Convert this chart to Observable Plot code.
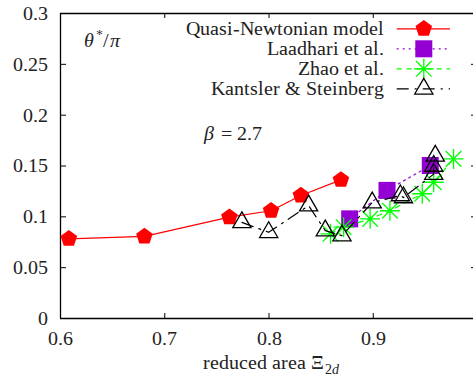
<!DOCTYPE html>
<html><head><meta charset="utf-8">
<script src="https://cdn.jsdelivr.net/npm/d3@7"></script>
<script src="https://cdn.jsdelivr.net/npm/@observablehq/plot@0.6"></script>
<style>
@font-face{font-family:"LSerifLocal";src:local("Liberation Serif"),local("LiberationSerif"),local("LiberationSerif-Regular");font-style:normal;font-weight:400;}
@font-face{font-family:"LSerifLocal";src:local("Liberation Serif Italic"),local("LiberationSerif-Italic");font-style:italic;font-weight:400;}
body{margin:0;padding:0;background:#fff;}
#chart{width:473px;height:379px;overflow:hidden;}
#chart svg{display:block;}
</style></head><body><div id="chart"></div>
<script>
// ---- data ----
const qnX = [0.608, 0.6805, 0.762, 0.802, 0.8306, 0.869];
const qnY = [0.0784, 0.0807, 0.0997, 0.106, 0.121, 0.1364];
const laX = [0.8774, 0.9132, 0.9547];
const laY = [0.098, 0.126, 0.1505];
const zhX = [0.859, 0.8716, 0.897, 0.916, 0.947, 0.958, 0.977];
const zhY = [0.0833, 0.0898, 0.098, 0.106, 0.1227, 0.134, 0.157];
const ksX = [0.774, 0.7997, 0.838, 0.854, 0.870, 0.899, 0.926, 0.929, 0.958, 0.958, 0.9595];
const ksY = [0.0945, 0.0848, 0.111, 0.0865, 0.0815, 0.114, 0.121, 0.119, 0.142, 0.150, 0.160];
const seriesNames = ["Quasi-Newtonian model", "Laadhari et al.", "Zhao et al.", "Kantsler & Steinberg"];
const xTicks = [0.6, 0.7, 0.8, 0.9, 1.0];
const xTickLabels = ["0.6", "0.7", "0.8", "0.9", "1"];
const yTicks = [0, 0.05, 0.1, 0.15, 0.2, 0.25, 0.3];
const yTickLabels = ["0", "0.05", "0.1", "0.15", "0.2", "0.25", "0.3"];
// rich-text pieces: [text, dx from left frame, dy from top frame, size, style, anchor]
const xTitleParts = [["reduced area Ξ", 263, 355, 20, "normal", "end"], ["2", 264, 360, 14, "normal", "start"], ["d", 271, 360, 14, "italic", "start"]];
const yNoteParts = [["θ", 23, 33, 20, "italic", "start"], ["*", 35, 26, 14, "normal", "start"], ["/", 42, 33, 20, "normal", "start"], ["π", 49, 33, 20, "italic", "start"]];
const betaParts = [["β", 143, 126, 20, "italic", "start"], ["= 2.7", 160, 126, 20, "normal", "start"]];

// ---- custom symbols ----
const pentagonSym = {draw(ctx, size) {
  const r = Math.sqrt(size / Math.PI);
  for (let k = 0; k < 5; k++) {
    const a = -Math.PI / 2 + k * 2 * Math.PI / 5;
    const px = r * Math.cos(a), py = r * Math.sin(a);
    k ? ctx.lineTo(px, py) : ctx.moveTo(px, py);
  }
  ctx.closePath();
}};
const starSym = {draw(ctx, size) {
  const r = Math.sqrt(size / Math.PI), d = r * 0.78;
  ctx.moveTo(-r, 0); ctx.lineTo(r, 0);
  ctx.moveTo(0, -r); ctx.lineTo(0, r);
  ctx.moveTo(-d, -d); ctx.lineTo(d, d);
  ctx.moveTo(-d, d); ctx.lineTo(d, -d);
}};
const triangleSym = {draw(ctx, size) {
  const r = Math.sqrt(size / Math.PI), s = Math.sin(2 * Math.PI / 3);
  ctx.moveTo(0, -r); ctx.lineTo(r * s, r * 0.5); ctx.lineTo(-r * s, r * 0.5); ctx.closePath();
}};

const seriesStyles = [
  {data: d3.zip(qnX, qnY), stroke: "#ff0000", dash: null, symbol: pentagonSym, r: 8.7, fill: "#ff0000", mstroke: "none", sw: 1.2},
  {data: d3.zip(laX, laY), stroke: "#9400d3", dash: "2,4", symbol: "square", r: 9.6, fill: "#9400d3", mstroke: "none", sw: 1.2},
  {data: d3.zip(zhX, zhY), stroke: "#00ff00", dash: "5,5", symbol: starSym, r: 10, fill: "none", mstroke: "#00ff00", sw: 1.2},
  {data: d3.zip(ksX, ksY), stroke: "#000000", dash: "12,6,2,6", symbol: triangleSym, r: 10.5, fill: "none", mstroke: "#000000", sw: 1.2}
];

const W = 473, H = 379, ML = 60, MT = 13, MB = 61, MR = 0;
const FONTNAME = "LSerifLocal, Liberation Serif, Tinos, Times New Roman, serif";
const FS = 20;
const TXT = "#222";

const markList = [];
// frame
markList.push(Plot.ruleY([0, 0.3], {stroke: "#000", strokeWidth: 1.3}));
markList.push(Plot.ruleX([0.6, 1.0], {stroke: "#000", strokeWidth: 1.3}));
// inward ticks (bottom, top, left, right)
markList.push(Plot.ruleX(xTicks, {stroke: "#000", strokeWidth: 1, insetTop: 300}));
markList.push(Plot.ruleX(xTicks, {stroke: "#000", strokeWidth: 1, insetBottom: 300}));
markList.push(Plot.ruleY(yTicks, {stroke: "#000", strokeWidth: 1, insetRight: 407}));
markList.push(Plot.ruleY(yTicks, {stroke: "#000", strokeWidth: 1, insetLeft: 411}));
// tick labels
markList.push(Plot.axisX(xTicks, {tickSize: 0, tickPadding: 12, fontSize: FS, fontFamily: FONTNAME, fill: TXT, label: null,
  tickFormat: d => xTickLabels[xTicks.indexOf(d)]}));
markList.push(Plot.axisY(yTicks, {tickSize: 0, tickPadding: 13, fontSize: FS, fontFamily: FONTNAME, fill: TXT, label: null,
  tickFormat: d => yTickLabels[yTicks.indexOf(d)]}));
// series
for (const s of seriesStyles) {
  markList.push(Plot.line(s.data, {x: d => d[0], y: d => d[1], stroke: s.stroke, strokeWidth: s.sw,
    strokeDasharray: s.dash ?? undefined}));
  markList.push(Plot.dot(s.data, {x: d => d[0], y: d => d[1], symbol: s.symbol, r: s.r,
    fill: s.fill, stroke: s.mstroke, strokeWidth: 1.3}));
}
// legend
const midY = (MT + H - MB) / 2;
seriesStyles.forEach((s, i) => {
  const cy = 28.3 + i * 20;
  markList.push(Plot.ruleY([seriesNames[i]], {y: null, stroke: s.stroke, strokeWidth: s.sw,
    strokeDasharray: s.dash ?? undefined, insetLeft: 336.7, insetRight: 23, dy: cy - midY}));
  markList.push(Plot.dot([seriesNames[i]], {x: null, y: null, frameAnchor: "top-left", dx: 423.3 - ML, dy: cy - MT,
    symbol: s.symbol, r: s.r, fill: s.fill, stroke: s.mstroke, strokeWidth: 1.3}));
  markList.push(Plot.text([seriesNames[i]], {x: null, y: null, text: d => d, frameAnchor: "top-left",
    dx: 383.5 - ML, dy: cy + 5.8 - MT, textAnchor: "end", lineAnchor: "bottom", fontSize: FS, fontFamily: FONTNAME, fill: TXT}));
});
// annotations and axis title (pieces for italic / sub / superscript)
for (const [txt, dx, dy, size, fstyle, anchor] of [...yNoteParts, ...betaParts, ...xTitleParts]) {
  markList.push(Plot.text([txt], {x: null, y: null, text: d => d, frameAnchor: "top-left", dx, dy,
    textAnchor: anchor, lineAnchor: "bottom", fontSize: size, fontStyle: fstyle, fontFamily: FONTNAME, fill: TXT}));
}

const svgChart = Plot.plot({
  width: W, height: H,
  marginLeft: ML, marginRight: MR, marginTop: MT, marginBottom: MB,
  x: {domain: [0.6, 1.0], range: [60, 477]},
  y: {domain: [0, 0.3], range: [318, 13]},
  marks: markList
});
document.getElementById("chart").appendChild(svgChart);
</script>
</body></html>
